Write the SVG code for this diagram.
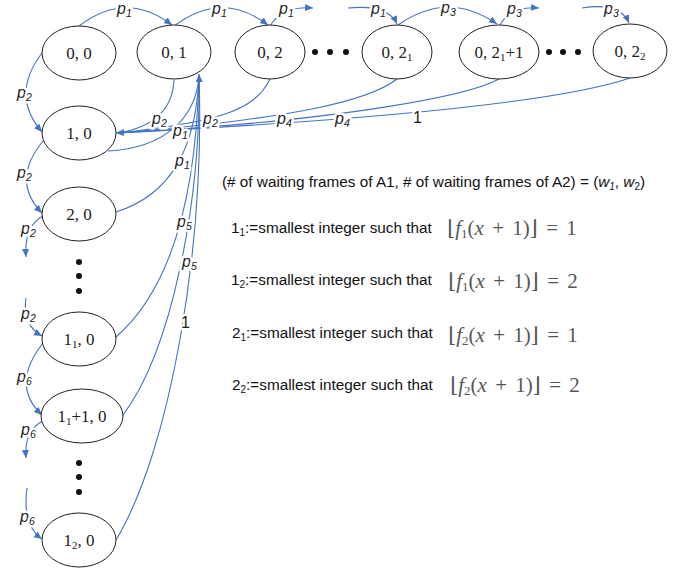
<svg xmlns="http://www.w3.org/2000/svg" width="685" height="572" viewBox="0 0 685 572">
<defs>
<marker id="ah" markerWidth="9" markerHeight="8" refX="8" refY="3.5" orient="auto" markerUnits="userSpaceOnUse">
<path d="M0,0 L8,3.5 L0,7 z" fill="#4472C4"/>
</marker>
<style>
.n ellipse{fill:#fff;stroke:#222;stroke-width:1}
.n text{font-family:"Liberation Serif","Times New Roman",serif;font-size:17px;fill:#222;text-anchor:middle}
.c path{fill:none;stroke:#4472C4;stroke-width:1.1}
.a{marker-end:url(#ah)}
.lb{font-family:"Liberation Sans",Arial,sans-serif;font-size:16px;font-style:italic;fill:#222;stroke:#fff;stroke-width:5;paint-order:stroke;stroke-linejoin:round}
.lb1{font-style:normal}
.dot{fill:#111}
.t{font-family:"Liberation Sans",Arial,sans-serif;font-size:15.3px;fill:#111}
.m{font-family:"Liberation Serif","DejaVu Serif",serif;font-size:21px;fill:#555;word-spacing:3px}
.br{font-family:"DejaVu Serif","DejaVu Sans",serif;font-weight:normal}
.mi{font-style:italic}
</style>
</defs>
<rect width="685" height="572" fill="#fff"/>

<g id="connectors" class="c">
<path class="a" d="M79,26 Q126,-10 172,25"/>
<path class="a" d="M174,26 Q222,-10 268,25"/>
<path class="a" d="M270,26 Q282,6 313,8"/>
<path class="a" d="M348,8 Q388,4 397,24"/>
<path class="a" d="M398,25 Q448,-10 497,24"/>
<path class="a" d="M500,25 Q510,6 539,8"/>
<path class="a" d="M582,8 Q620,2 629,23"/>
<path class="a" d="M42,53 Q10,95 42,132"/>
<path class="a" d="M44,140 Q10,180 42,213"/>
<path class="a" d="M43,216 Q24,226 26,257"/>
<path class="a" d="M26,298 Q22,325 42,336"/>
<path class="a" d="M43,343 Q10,385 42,415"/>
<path class="a" d="M43,421 Q24,430 26,458"/>
<path class="a" d="M27,488 Q22,525 42,539"/>
<path d="M174,80 Q172,124 118,133"/>
<path d="M270,79 C255,110 220,122 118,133"/>
<path d="M397,79 C370,100 300,118 118,133"/>
<path d="M499,79 C470,95 350,120 118,133"/>
<path class="a" d="M630,78 C580,95 450,116 116,133"/>
<path d="M108,151 C165,148 196,118 199,76"/>
<path d="M116,212 C170,195 196,150 199,76"/>
<path d="M116,337 C170,290 196,200 199,76"/>
<path d="M123,415 C172,350 201,200 199,76"/>
<path class="a" d="M116,540 C170,450 205,250 199,74"/>
</g>

<g id="labels">
<text class="lb" x="117" y="14">p<tspan font-size="10.5" dy="3">1</tspan></text>
<text class="lb" x="212" y="14">p<tspan font-size="10.5" dy="3">1</tspan></text>
<text class="lb" x="279" y="14">p<tspan font-size="10.5" dy="3">1</tspan></text>
<text class="lb" x="371" y="14">p<tspan font-size="10.5" dy="3">1</tspan></text>
<text class="lb" x="441" y="13">p<tspan font-size="10.5" dy="3">3</tspan></text>
<text class="lb" x="507" y="14">p<tspan font-size="10.5" dy="3">3</tspan></text>
<text class="lb" x="604" y="14">p<tspan font-size="10.5" dy="3">3</tspan></text>

<text class="lb" x="17" y="98">p<tspan font-size="10.5" dy="3">2</tspan></text>
<text class="lb" x="17" y="178">p<tspan font-size="10.5" dy="3">2</tspan></text>
<text class="lb" x="21" y="234">p<tspan font-size="10.5" dy="3">2</tspan></text>
<text class="lb" x="21" y="319">p<tspan font-size="10.5" dy="3">2</tspan></text>
<text class="lb" x="17" y="382">p<tspan font-size="10.5" dy="3">6</tspan></text>
<text class="lb" x="21" y="435">p<tspan font-size="10.5" dy="3">6</tspan></text>
<text class="lb" x="20" y="522">p<tspan font-size="10.5" dy="3">6</tspan></text>

<text class="lb" x="152" y="124">p<tspan font-size="10.5" dy="3">2</tspan></text>
<text class="lb" x="203" y="124">p<tspan font-size="10.5" dy="3">2</tspan></text>
<text class="lb" x="277" y="124">p<tspan font-size="10.5" dy="3">4</tspan></text>
<text class="lb" x="335" y="124">p<tspan font-size="10.5" dy="3">4</tspan></text>
<text class="lb lb1" x="413" y="123">1</text>
<text class="lb" x="173" y="136">p<tspan font-size="10.5" dy="3">1</tspan></text>
<text class="lb" x="175" y="166">p<tspan font-size="10.5" dy="3">1</tspan></text>
<text class="lb" x="177" y="227">p<tspan font-size="10.5" dy="3">5</tspan></text>
<text class="lb" x="182" y="267">p<tspan font-size="10.5" dy="3">5</tspan></text>
<text class="lb lb1" x="181" y="328">1</text>
</g>

<g id="n00" class="n"><ellipse cx="79" cy="53" rx="37" ry="27"/><text x="79" y="59">0, 0</text></g>
<g id="n01" class="n"><ellipse cx="174" cy="52" rx="37" ry="27"/><text x="174" y="58">0, 1</text></g>
<g id="n02" class="n"><ellipse cx="270" cy="52" rx="35" ry="27"/><text x="270" y="58">0, 2</text></g>
<g id="n021" class="n"><ellipse cx="397" cy="52" rx="35" ry="27"/><text x="397" y="58">0, 2<tspan font-size="11" dy="3">1</tspan></text></g>
<g id="n021p1" class="n"><ellipse cx="499" cy="52" rx="40" ry="27"/><text x="499" y="58">0, 2<tspan font-size="11" dy="3">1</tspan><tspan dy="-3">+1</tspan></text></g>
<g id="n022" class="n"><ellipse cx="630" cy="51" rx="37" ry="27"/><text x="630" y="57">0, 2<tspan font-size="11" dy="3">2</tspan></text></g>
<g id="n10" class="n"><ellipse cx="79" cy="133" rx="37" ry="27"/><text x="79" y="139">1, 0</text></g>
<g id="n20" class="n"><ellipse cx="79" cy="214" rx="37" ry="27"/><text x="79" y="220">2, 0</text></g>
<g id="n110" class="n"><ellipse cx="79" cy="339" rx="37" ry="27"/><text x="79" y="345">1<tspan font-size="11" dy="3">1</tspan><tspan dy="-3">, 0</tspan></text></g>
<g id="n11p10" class="n"><ellipse cx="82" cy="416" rx="41" ry="27"/><text x="82" y="422">1<tspan font-size="11" dy="3">1</tspan><tspan dy="-3">+1, 0</tspan></text></g>
<g id="n120" class="n"><ellipse cx="79" cy="540" rx="37" ry="27"/><text x="79" y="546">1<tspan font-size="11" dy="3">2</tspan><tspan dy="-3">, 0</tspan></text></g>

<g id="dots">
<circle class="dot" cx="315" cy="52" r="3"/><circle class="dot" cx="330" cy="52" r="3"/><circle class="dot" cx="346" cy="52" r="3"/>
<circle class="dot" cx="549" cy="52" r="3"/><circle class="dot" cx="563" cy="52" r="3"/><circle class="dot" cx="578" cy="52" r="3"/>
<circle class="dot" cx="79" cy="262" r="3"/><circle class="dot" cx="79" cy="276" r="3"/><circle class="dot" cx="79" cy="291" r="3"/>
<circle class="dot" cx="79" cy="463" r="3"/><circle class="dot" cx="79" cy="477" r="3"/><circle class="dot" cx="79" cy="492" r="3"/>
</g>

<g id="legend">
<text class="t" x="222" y="187">(# of waiting frames of A1, # of waiting frames of A2) = (<tspan font-style="italic">w</tspan><tspan font-size="10" dy="3" font-style="italic">1</tspan><tspan dy="-3">, </tspan><tspan font-style="italic">w</tspan><tspan font-size="10" dy="3">2</tspan><tspan dy="-3">)</tspan></text>
<text class="t" x="231" y="233">1<tspan font-size="10" dy="3">1</tspan><tspan dy="-3">:=smallest integer such that</tspan></text>
<text class="t" x="231" y="285">1<tspan font-size="10" dy="3">2</tspan><tspan dy="-3">:=smallest integer such that</tspan></text>
<text class="t" x="232" y="338">2<tspan font-size="10" dy="3">1</tspan><tspan dy="-3">:=smallest integer such that</tspan></text>
<text class="t" x="232" y="390">2<tspan font-size="10" dy="3">2</tspan><tspan dy="-3">:=smallest integer such that</tspan></text>
<text class="m" x="447" y="235"><tspan class="br">⌊</tspan><tspan class="mi">f</tspan><tspan font-size="13" dy="3">1</tspan><tspan dy="-3">(</tspan><tspan class="mi">x</tspan> + 1)<tspan class="br">⌋</tspan> = 1</text>
<text class="m" x="448" y="288"><tspan class="br">⌊</tspan><tspan class="mi">f</tspan><tspan font-size="13" dy="3">1</tspan><tspan dy="-3">(</tspan><tspan class="mi">x</tspan> + 1)<tspan class="br">⌋</tspan> = 2</text>
<text class="m" x="448" y="342"><tspan class="br">⌊</tspan><tspan class="mi">f</tspan><tspan font-size="13" dy="3">2</tspan><tspan dy="-3">(</tspan><tspan class="mi">x</tspan> + 1)<tspan class="br">⌋</tspan> = 1</text>
<text class="m" x="450" y="392"><tspan class="br">⌊</tspan><tspan class="mi">f</tspan><tspan font-size="13" dy="3">2</tspan><tspan dy="-3">(</tspan><tspan class="mi">x</tspan> + 1)<tspan class="br">⌋</tspan> = 2</text>
</g>
</svg>
